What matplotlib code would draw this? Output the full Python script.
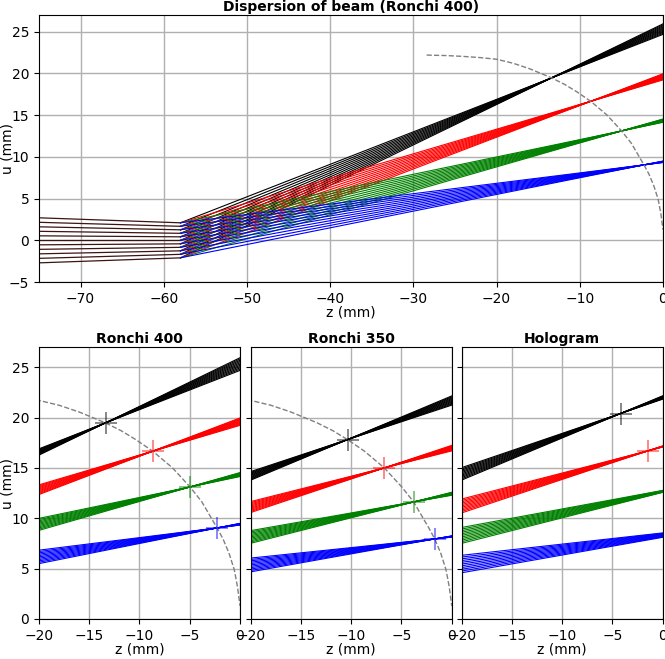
# -*- coding: utf-8 -*-
"""
Dispersion of beam through gratings (Ronchi 400, Ronchi 350, Hologram)
rays: incoming beam -> grating at z = -58 mm -> focus of each colour
"""
import numpy as np
import matplotlib
matplotlib.use('Agg')
import matplotlib.pyplot as plt

# ------------------------------------------------------------------------------
# D A T E N

# incoming beam (ray heights at z = -75 and at grating z = -58)
z_start = -75.0
z_grating = -58.0
z_end = 0.0
u_in = [-2.7, -2.16, -1.62, -1.08, -0.54, 0.0, 0.54, 1.08, 1.62, 2.16, 2.7]
u_grating = [-2.1, -1.68, -1.26, -0.84, -0.42, 0.0, 0.42, 0.84, 1.26, 1.68, 2.1]

colours = ['k', 'r', 'g', 'b']

# focus points (z, u) in mm for each colour
r400_focus_z = [-13.38, -8.68, -4.97, -2.28]
r400_focus_u = [19.47, 16.66, 13.11, 9.04]

r350_focus_z = [-10.37, -6.71, -3.79, -1.69]
r350_focus_u = [17.81, 15.0, 11.62, 7.95]

holo_focus_z = [-4.2, -1.45, 2.8, 6.7]
holo_focus_u = [20.4, 16.7, 13.28, 9.29]

# dashed focal curve
curve_z = [-28.4, -26, -24, -22, -20, -18, -16, -13.38, -11.8, -10.37, -8.68,
           -6.71, -4.97, -3.79, -2.28, -1.69, -1.1, -0.57, -0.25, 0.0]
curve_u = [22.2, 22.14, 22.04, 21.9, 21.7, 21.22, 20.55, 19.47, 18.68, 17.81,
           16.66, 15.0, 13.11, 11.62, 9.04, 7.95, 6.55, 4.9, 3.2, 1.3]


# ------------------------------------------------------------------------------
# F U N K T I O N E N
def draw_rays(ax, focus_z, focus_u):
    # rays from grating through focus, up to z = 0
    for col, zf, uf in zip(colours, focus_z, focus_u):
        for ug in u_grating:
            u0 = ug + (uf - ug) * (z_end - z_grating) / (zf - z_grating)
            ax.plot([z_grating, z_end], [ug, u0], color=col, lw=0.8)


def draw_marks(ax, focus_z, focus_u):
    for col, zf, uf in zip(colours, focus_z, focus_u):
        ax.plot(zf, uf, '+', color=col, ms=16, mew=1.2, alpha=0.55)


# ------------------------------------------------------------------------------
# P L O T
fig = plt.figure(figsize=(6.65, 6.59), dpi=100)

ax0 = fig.add_axes([0.0586, 0.572, 0.9383, 0.4052])
for ui, ug in zip(u_in, u_grating):
    ax0.plot([z_start, z_grating], [ui, ug], color='#3d1414', lw=0.9)
draw_rays(ax0, r400_focus_z, r400_focus_u)
ax0.plot(curve_z, curve_u, '--', color='gray', lw=1)
ax0.set_xlim(-75, 0)
ax0.set_ylim(-5, 27)
ax0.set_xticks(np.arange(-70, 1, 10))
ax0.set_yticks(np.arange(-5, 26, 5))
ax0.grid(True, color='#b0b0b0', lw=1)
ax0.set_axisbelow(True)
ax0.set_xlabel('z (mm)', labelpad=0)
ax0.set_ylabel('u (mm)')
ax0.yaxis.set_label_coords(-0.039, 0.5)
ax0.set_title('Dispersion of beam (Ronchi 400)', fontweight='bold', fontsize=10, pad=3)

lefts = [0.0586, 0.377, 0.6943]
titles = ['Ronchi 400', 'Ronchi 350', 'Hologram']
focus_sets = [(r400_focus_z, r400_focus_u),
              (r350_focus_z, r350_focus_u),
              (holo_focus_z, holo_focus_u)]

for k in range(3):
    ax = fig.add_axes([lefts[k], 0.0607, 0.3023, 0.4127])
    fz, fu = focus_sets[k]
    draw_rays(ax, fz, fu)
    if k < 2:
        ax.plot(curve_z, curve_u, '--', color='gray', lw=1)
    draw_marks(ax, fz, fu)
    ax.set_xlim(-20, 0)
    ax.set_ylim(0, 27)
    ax.set_xticks(np.arange(-20, 1, 5))
    ax.set_yticks(np.arange(0, 26, 5))
    ax.grid(True, color='#b0b0b0', lw=1)
    ax.set_axisbelow(True)
    ax.set_xlabel('z (mm)', labelpad=0)
    ax.set_title(titles[k], fontweight='bold', fontsize=10, pad=3)
    if k == 0:
        ax.set_ylabel('u (mm)')
        ax.yaxis.set_label_coords(-0.12, 0.5)
    else:
        ax.tick_params(labelleft=False)

fig.savefig('out.png', dpi=100)
